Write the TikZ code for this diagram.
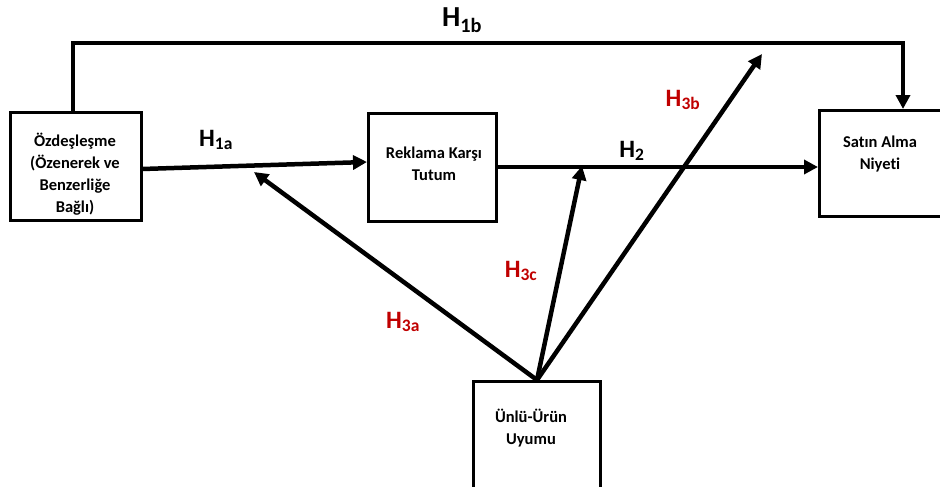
\documentclass[tikz,border=0pt]{standalone}
\usepackage{fontspec}
\setmainfont{Carlito}[Ligatures=NoCommon]
\usetikzlibrary{arrows.meta}
\definecolor{hred}{RGB}{192,0,0}
\begin{document}
\begin{tikzpicture}[x=1pt,y=-1pt,
  box/.style={draw,line width=3pt,fill=white},
  btxt/.style={font=\bfseries\fontsize{16.5}{22}\selectfont,align=center},
  conn/.style={line width=4.5pt,-{Triangle[length=14pt,width=14pt]}},
  hlab/.style={font=\bfseries\fontsize{25}{28}\selectfont},
  rlab/.style={hlab,text=hred}]
\useasboundingbox (0,0) rectangle (940,487);
\draw[box] (10,112) rectangle (141,220);
\draw[box] (368,113) rectangle (496,221);
\draw[box] (819,110) rectangle (950,216);
\draw[box] (473,381) rectangle (600,495);
\node[btxt] (n1) at (75,174) {Özdeşleşme\\(Özenerek ve\\Benzerliğe\\Bağlı)};
\node[btxt] (n2) at (434,164) {Reklama Karşı\\Tutum};
\node[btxt] (n3) at (880,154) {Satın Alma\\Niyeti};
\node[btxt] (n4) at (531,428) {Ünlü-Ürün\\Uyumu};
\coordinate (b1t) at (73,111);
\coordinate (b1r) at (142,169);
\coordinate (b2l) at (367,162);
\coordinate (b2r) at (497,167);
\coordinate (b3l) at (818,167);
\coordinate (b3t) at (903,109);
\coordinate (b4t) at (537,380);
\coordinate (t3a) at (254,172);
\coordinate (t3c) at (582,166);
\coordinate (t3b) at (762,54);
\draw[conn] (b1t) -- (73,43) -- (903,43) -- (b3t);
\draw[conn] (b1r) -- (b2l);
\draw[conn] (b2r) -- (b3l);
\draw[conn] (b4t) -- (t3a);
\draw[conn] (b4t) -- (t3c);
\draw[conn] (b4t) -- (t3b);
\node[hlab,font=\bfseries\fontsize{29}{32}\selectfont] (h1b) at (462,20) {H\textsubscript{1b}};
\node[hlab] (h1a) at (216,140) {H\textsubscript{1a}};
\node[hlab] (h2) at (632,151) {H\textsubscript{2}};
\node[rlab] (h3a) at (403,322) {H\textsubscript{3a}};
\node[rlab] (h3c) at (521,271) {H\textsubscript{3c}};
\node[rlab] (h3b) at (683,100) {H\textsubscript{3b}};
\end{tikzpicture}
\end{document}
